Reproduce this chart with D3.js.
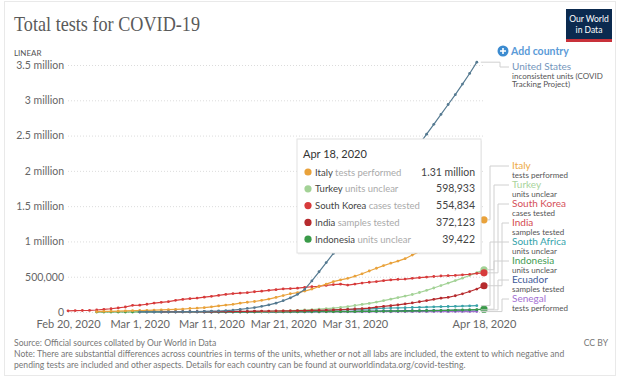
<!DOCTYPE html>
<html>
<head>
<meta charset="utf-8">
<script src="https://cdn.jsdelivr.net/npm/d3@7"></script>
<style>
  body { margin: 0; background: #fff; }
  svg text { font-family: Lato, "Noto Sans", sans-serif; }
</style>
</head>
<body>
<script>
// tick labels
const xTicks = ['2020-02-20', '2020-03-01', '2020-03-11', '2020-03-21', '2020-03-31', '2020-04-18'];
const yTicks = [0, 500000, 1000000, 1500000, 2000000, 2500000, 3000000, 3500000];

// countries, units and the first day of each series
const countries = ['United States', 'Italy', 'Turkey', 'South Korea', 'India', 'South Africa', 'Indonesia', 'Ecuador', 'Senegal'];
const units = ['inconsistent units (COVID Tracking Project)', 'tests performed', 'units unclear', 'cases tested',
  'samples tested', 'units unclear', 'units unclear', 'samples tested', 'tests performed'];
const firstDay = ['2020-03-01', '2020-02-24', '2020-03-18', '2020-02-20', '2020-03-04', '2020-03-12', '2020-02-24', '2020-03-10', '2020-03-01'];
const lineColors = ['#557a91', '#e9a23b', '#a3d296', '#d73b3b', '#b62b2e', '#3aa2a8', '#3a9a49', '#3b5796', '#a06fcf'];
const labelColors = ['#7496bc', '#eeaa45', '#a9d49c', '#d5505a', '#d4484e', '#35a3ab', '#3f9c52', '#3e5a99', '#a470d2'];

// cumulative tests per day
const usTests = [500, 800, 1000, 1500, 2200, 2900, 4000, 5000, 6500, 8000, 11000, 14000, 20000, 27000, 38000,
  50000, 62000, 80000, 100000, 125000, 160000, 200000, 250000, 320000, 440000, 570000, 700000, 830000, 950000,
  1070000, 1190000, 1310000, 1440000, 1570000, 1710000, 1840000, 1970000, 2100000, 2240000, 2380000, 2520000,
  2660000, 2800000, 2940000, 3080000, 3230000, 3380000, 3540000];
const italyTests = [4324, 8623, 9587, 12014, 15695, 18661,
  21127, 23345, 25856, 29837, 32362, 36359, 42062, 49937, 53826, 60761, 73154, 86011, 97488, 109170, 124899,
  137962, 148657, 165541, 182777, 206886, 233222, 258402, 275468, 296964, 324445, 361060, 394079, 429526,
  454030, 477359, 506968,
  541423, 581232, 619849, 657224, 691461, 721732, 755445, 807125, 853369, 906864, 963473, 1010193, 1046910,
  1073689, 1117404, 1178403, 1244108, 1305833];
const turkeyTests = [5000, 8000, 12000, 16000, 20000, 24000, 28000, 33000, 40000, 48000, 56000, 65000, 76000, 92000,
  107000, 122000, 140000, 161000, 182000, 204000, 225000, 248000, 276000, 307000, 340000, 375000, 410000,
  445000, 480000, 518000, 558000, 598933];
const koreaTests = [16400, 19600, 21600, 23000, 28600, 36700, 46100, 57990, 70900, 94055,
  96985, 109591, 125851, 136707, 146541, 164740, 178189, 188518, 196618, 210144, 222395, 234998, 248647,
  261335, 268212, 274504, 286716, 295647, 307024, 316664, 327509, 331780, 338036, 348582, 357896, 364942,
  376961, 387925, 394141, 382000, 395194,
  410564, 421547, 431743, 443273, 455032, 461233, 466804, 477304, 486003, 494711, 503051, 510479, 514621,
  518743, 527438, 534552, 546463, 554834];
const indiaTests = [3000, 3400, 3700, 4000, 4200, 4400, 4600, 5000, 5900, 6500, 7000, 7500, 8000, 11500, 12900,
  13500, 14500, 15700, 16900, 18400, 20700, 22700, 25100, 27700, 30000, 34900, 38400, 42800,
  47900, 55900, 69200, 79900, 89500, 101100, 114000, 127900, 144900, 161300, 179400, 195700, 208000,
  230000, 258000, 290000, 325000, 372123];
const southAfricaTests = [1000, 1500, 2000, 2400, 3000, 4800, 6400, 7400, 8300, 9300, 10800, 13000, 15300, 18700,
  21500, 24100, 28500, 31000, 35600, 39500,
  42000, 44000, 47800, 53000, 56900, 58500, 60000, 64000, 66500, 70000, 73000, 75000, 78000, 80600, 83500,
  86000, 90000];
const indonesiaTests = [100, 150, 200, 250, 300, 350,
  400, 450, 500, 550, 600, 650, 700, 750, 800, 900, 1000, 1100, 1200, 1300, 1400, 1550, 1700, 1900, 2100,
  2300, 2500, 2700, 2900, 3200, 3500, 3800, 4200, 4600, 5100, 5800, 6600,
  7500, 8400, 9300, 10300, 11300, 12400, 13600, 14900, 16300, 17900, 19600, 21400, 23400, 25600, 28000,
  31000, 35000, 39422];
const ecuadorTests = [200, 300, 400, 500, 700, 900, 1100, 1400, 1800, 2300, 2900, 3500, 4200, 5000, 5800, 6600,
  7400, 8200, 9100, 10000, 10900, 11800,
  12700, 13600, 14500, 15400, 16300, 17200, 18100, 19100, 20100, 21200, 22300, 23500, 24700, 26000, 27300,
  28600, 30000];
const senegalTests = [30, 40, 60, 80, 100, 120, 150, 180, 200, 230, 260, 300, 350, 400, 450, 500, 600, 700, 800,
  900, 1000, 1100, 1250, 1400, 1550, 1700, 1900, 2100, 2300, 2500, 2700,
  2900, 3100, 3300, 3500, 3700, 3900, 4100, 4300, 4500, 4700, 4900, 5100, 5300, 5500, 5700, 5900, 6100];

const allTests = [usTests, italyTests, turkeyTests, koreaTests, indiaTests, southAfricaTests, indonesiaTests, ecuadorTests, senegalTests];

// hovered day and the rows shown in the tooltip
const hoverDay = '2020-04-18';
const tooltipRows = ['Italy', 'Turkey', 'South Korea', 'India', 'Indonesia'];

const parse = d3.timeParse('%Y-%m-%d');
const series = countries.map((name, i) => {
  const d0 = parse(firstDay[i]);
  return {
    name: name,
    unit: units[i],
    color: lineColors[i],
    labelColor: labelColors[i],
    values: allTests[i].map((v, j) => ({date: d3.timeDay.offset(d0, j), value: v}))
  };
});

const width = 620, height = 379;
const svg = d3.select('body').append('svg')
  .attr('width', width)
  .attr('height', height);

svg.append('rect')
  .attr('x', 4.5).attr('y', 1.5)
  .attr('width', 611).attr('height', 374)
  .attr('fill', '#fff')
  .attr('stroke', '#e9e9e9');

// title + logo
svg.append('text')
  .attr('x', 14).attr('y', 31)
  .attr('textLength', 186)
  .attr('lengthAdjust', 'spacingAndGlyphs')
  .style('font-family', '"Liberation Serif", "DejaVu Serif", serif')
  .style('font-size', '21px')
  .style('fill', '#5a5a5a')
  .text('Total tests for COVID-19');

const logo = svg.append('g').attr('transform', 'translate(566, 9)');
logo.append('rect').attr('width', 46).attr('height', 33).attr('fill', '#0b2a4f');
logo.append('rect').attr('y', 30).attr('width', 46).attr('height', 3).attr('fill', '#c8313a');
logo.append('text').attr('x', 23).attr('y', 13).attr('text-anchor', 'middle')
  .style('font-size', '8.5px').style('fill', '#fff').text('Our World');
logo.append('text').attr('x', 23).attr('y', 24).attr('text-anchor', 'middle')
  .style('font-size', '8.5px').style('fill', '#fff').text('in Data');

svg.append('text')
  .attr('x', 14).attr('y', 56)
  .style('font-size', '8px')
  .style('fill', '#555')
  .text('LINEAR');

// add country
svg.append('circle').attr('cx', 503).attr('cy', 51).attr('r', 5.5).attr('fill', '#3c8bd0');
svg.append('path').attr('d', 'M500,51H506M503,48V54').attr('stroke', '#fff').attr('stroke-width', 1.6);
svg.append('text')
  .attr('x', 511).attr('y', 55)
  .style('font-size', '10.5px')
  .style('font-weight', 'bold')
  .style('fill', '#5b9bd8')
  .text('Add country');

// scales
const x = d3.scaleTime()
  .domain([parse(xTicks[0]), parse(xTicks[xTicks.length - 1])])
  .range([68, 484]);
const y = d3.scaleLinear()
  .domain([0, 3500000])
  .range([312, 65]);

const yFormat = v => v === 0 ? '0' : v < 1000000 ? d3.format(',')(v) : (v / 1000000) + ' million';

const yAxis = d3.axisLeft(y)
  .tickValues(yTicks)
  .tickFormat(yFormat)
  .tickSize(-416)
  .tickPadding(4);

const gy = svg.append('g')
  .attr('transform', 'translate(68, 0)')
  .call(yAxis);
gy.select('.domain').remove();
gy.selectAll('.tick line')
  .attr('stroke', '#dcdcdc')
  .attr('stroke-dasharray', '1,2');
gy.selectAll('.tick text')
  .style('font-size', '10.5px')
  .style('fill', '#666');

const xAxis = d3.axisBottom(x)
  .tickValues(xTicks.map(parse))
  .tickFormat(d3.timeFormat('%b %-d, %Y'))
  .tickSize(0)
  .tickPadding(8);

const gx = svg.append('g')
  .attr('transform', 'translate(0, 312)')
  .call(xAxis);
gx.select('.domain').remove();
gx.selectAll('.tick text')
  .style('font-size', '11px')
  .style('fill', '#666');

// lines
const line = d3.line()
  .x(d => x(d.date))
  .y(d => y(d.value));

const drawOrder = ['Senegal', 'Ecuador', 'South Africa', 'Indonesia', 'Turkey', 'India', 'South Korea', 'Italy', 'United States'];
const lines = svg.append('g');
drawOrder.forEach(name => {
  const s = series.find(d => d.name === name);
  const g = lines.append('g');
  g.append('path')
    .attr('d', line(s.values))
    .attr('fill', 'none')
    .attr('stroke', s.color)
    .attr('stroke-width', 1.2);
  g.selectAll('circle')
    .data(s.values)
    .enter().append('circle')
    .attr('cx', d => x(d.date))
    .attr('cy', d => y(d.value))
    .attr('r', 1.4)
    .attr('fill', s.color);
});

// highlighted points of the hovered day
const hover = parse(hoverDay);
tooltipRows.forEach(name => {
  const s = series.find(d => d.name === name);
  const p = s.values.find(d => +d.date === +hover);
  lines.append('circle')
    .attr('cx', x(p.date))
    .attr('cy', y(p.value))
    .attr('r', 3.6)
    .attr('fill', s.color);
});

// labels on the right
const legendX = 512;
const connector = svg.append('g');
function label(s, nameY, bendX, unitLines) {
  const last = s.values[s.values.length - 1];
  const ex = x(last.date) + 4, ey = y(last.value);
  connector.append('path')
    .attr('d', `M${ex},${ey}H${bendX}V${nameY - 3}H${legendX - 3}`)
    .attr('fill', 'none')
    .attr('stroke', '#d0d0d0')
    .attr('stroke-width', 1);
  svg.append('text')
    .attr('x', legendX).attr('y', nameY)
    .style('font-size', '10px')
    .style('fill', s.labelColor)
    .text(s.name);
  unitLines.forEach((t, k) => {
    svg.append('text')
      .attr('x', legendX).attr('y', nameY + 8.5 + k * 8.5)
      .style('font-size', '8px')
      .style('fill', '#555')
      .text(t);
  });
}

label(series[0], 70, 500, ['inconsistent units (COVID', 'Tracking Project)']);
series.slice(1).forEach((s, i) => {
  label(s, 169 + i * 19, 490 + (i % 4) * 4, [s.unit]);
});

// tooltip
const tip = svg.append('g').attr('transform', 'translate(297, 139)');
tip.append('rect')
  .attr('x', 1).attr('y', 1.5)
  .attr('width', 184).attr('height', 114)
  .attr('fill', 'rgba(0,0,0,0.06)');
tip.append('rect')
  .attr('width', 184).attr('height', 114)
  .attr('fill', '#fff')
  .attr('stroke', '#e2e2e2');
tip.append('text')
  .attr('x', 6).attr('y', 19)
  .style('font-size', '11px')
  .style('fill', '#333')
  .text(d3.timeFormat('%b %-d, %Y')(hover));

const tipFormat = v => v >= 1000000 ? d3.format('.3')(v / 1000000) + ' million' : d3.format(',')(v);
tooltipRows.forEach((name, i) => {
  const s = series.find(d => d.name === name);
  const p = s.values.find(d => +d.date === +hover);
  const ry = 33 + i * 16.8;
  tip.append('circle')
    .attr('cx', 11).attr('cy', ry)
    .attr('r', 3.6)
    .attr('fill', s.color);
  const t = tip.append('text')
    .attr('x', 18).attr('y', ry + 3.5)
    .style('font-size', '9.5px');
  t.append('tspan').style('fill', '#444').text(s.name + ' ');
  t.append('tspan').style('fill', '#aaa').text(s.unit);
  tip.append('text')
    .attr('x', 178).attr('y', ry + 3.5)
    .attr('text-anchor', 'end')
    .style('font-size', '10.5px')
    .style('fill', '#444')
    .text(tipFormat(p.value));
});

// footer
const notes = [
  'Source: Official sources collated by Our World in Data',
  'Note: There are substantial differences across countries in terms of the units, whether or not all labs are included, the extent to which negative and',
  'pending tests are included and other aspects. Details for each country can be found at ourworldindata.org/covid-testing.'
];
svg.append('g').selectAll('text')
  .data(notes)
  .enter().append('text')
  .attr('x', 14)
  .attr('y', (d, i) => 346 + i * 11)
  .style('font-size', '8.6px')
  .style('fill', '#777')
  .text(d => d);
svg.append('text')
  .attr('x', 608).attr('y', 346)
  .attr('text-anchor', 'end')
  .style('font-size', '8.6px')
  .style('fill', '#777')
  .text('CC BY');
</script>
</body>
</html>
